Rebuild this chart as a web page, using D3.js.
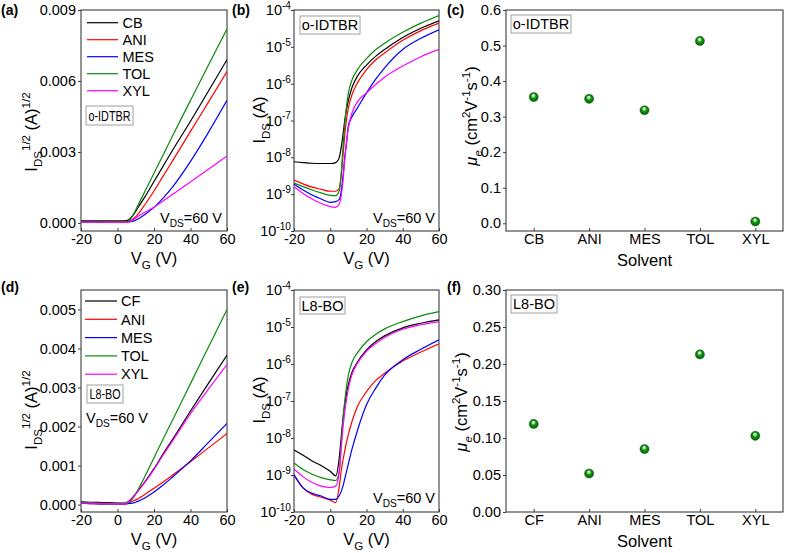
<!DOCTYPE html>
<html><head><meta charset="utf-8">
<script src="https://cdn.jsdelivr.net/npm/d3@7"></script>
<style>body{margin:0;background:#fff} svg{display:block} text{font-family:"Liberation Sans",Arial,sans-serif;fill:#000}</style>
</head><body><svg id="c" width="785" height="553"></svg>
<script>
// ---------------- DATA ----------------
const vg = [-20,-15,-10,-5,0,3,5,6,7,8,9,10,12,15,20,25,30,40,50,60];
const namesTop = ["CB","ANI","MES","TOL","XYL"];
const namesBottom = ["CF","ANI","MES","TOL","XYL"];
const colors = ["#000000","#ff0000","#0000ff","#0a8a0a","#ff00ff"];

// (a) sqrt(IDS) in units of 1e-3 A^1/2
const aCB  = [0.09,0.09,0.085,0.085,0.085,0.09,0.10,0.13,0.19,0.28,0.38,0.5,0.74,1.1,1.75,2.4,3.05,4.3,5.6,6.9];
const aANI = [0.05,0.045,0.04,0.04,0.035,0.035,0.04,0.06,0.09,0.14,0.2,0.27,0.45,0.77,1.35,1.98,2.6,3.87,5.13,6.4];
const aMES = [0.05,0.045,0.035,0.03,0.025,0.025,0.03,0.04,0.05,0.07,0.09,0.12,0.2,0.36,0.66,1.05,1.5,2.6,3.85,5.18];
const aTOL = [0.04,0.04,0.035,0.035,0.03,0.03,0.04,0.08,0.15,0.26,0.4,0.56,0.87,1.33,2.1,2.87,3.65,5.18,6.7,8.2];
const aXYL = [0.04,0.035,0.03,0.025,0.02,0.02,0.025,0.04,0.07,0.11,0.16,0.21,0.32,0.45,0.66,0.93,1.2,1.73,2.28,2.83];

// (b) IDS (A)
const bCB  = [7.6e-9,7.2e-9,6.9e-9,6.8e-9,6.8e-9,7.2e-9,1.0e-8,1.8e-8,4.0e-8,1.0e-7,2.0e-7,3.5e-7,7.9e-7,1.6e-6,3.2e-6,5.5e-6,8.5e-6,1.8e-5,3.2e-5,5.1e-5];
const bANI = [2.4e-9,1.9e-9,1.55e-9,1.35e-9,1.2e-9,1.2e-9,1.45e-9,3.0e-9,1.05e-8,4.0e-8,1.1e-7,2.2e-7,5.0e-7,1.05e-6,2.4e-6,4.4e-6,6.8e-6,1.5e-5,2.75e-5,4.4e-5];
const bMES = [1.9e-9,1.3e-9,9.5e-10,7.4e-10,6.0e-10,6.3e-10,7.2e-10,1.17e-9,3.0e-9,1.0e-8,2.5e-8,7.1e-8,1.26e-7,2.2e-7,5.6e-7,1.3e-6,2.7e-6,8.5e-6,1.7e-5,2.9e-5];
const bTOL = [2.0e-9,1.6e-9,1.3e-9,1.08e-9,9.3e-10,9.1e-10,1.26e-9,3.5e-9,1.8e-8,7.9e-8,2.5e-7,5.6e-7,1.26e-6,2.4e-6,4.8e-6,8.3e-6,1.26e-5,2.5e-5,4.4e-5,7.1e-5];
const bXYL = [1.6e-9,1.05e-9,7.4e-10,5.6e-10,4.6e-10,4.4e-10,5.4e-10,8.5e-10,2.2e-9,8.5e-9,2.8e-8,6.3e-8,1.6e-7,3.2e-7,5.6e-7,9.5e-7,1.5e-6,3.0e-6,5.4e-6,8.5e-6];

// (c) electron mobility, cm2/Vs
const cSolvents = ["CB","ANI","MES","TOL","XYL"];
const cMobility = [0.355,0.350,0.318,0.513,0.005];

// (d) sqrt(IDS) in units of 1e-3 A^1/2
const dCF  = [0.07,0.06,0.055,0.05,0.04,0.035,0.05,0.08,0.12,0.17,0.22,0.28,0.4,0.58,0.92,1.3,1.66,2.4,3.12,3.83];
const dANI = [0.03,0.025,0.02,0.02,0.015,0.015,0.025,0.04,0.06,0.08,0.1,0.12,0.17,0.26,0.42,0.58,0.75,1.1,1.46,1.82];
const dMES = [0.03,0.025,0.02,0.02,0.015,0.015,0.02,0.025,0.03,0.035,0.045,0.06,0.1,0.17,0.32,0.5,0.7,1.12,1.6,2.08];
const dTOL = [0.045,0.04,0.035,0.03,0.03,0.03,0.035,0.05,0.08,0.13,0.2,0.28,0.45,0.72,1.2,1.68,2.15,3.1,4.05,5.0];
const dXYL = [0.04,0.035,0.03,0.025,0.02,0.02,0.045,0.07,0.11,0.16,0.21,0.27,0.39,0.57,0.9,1.27,1.62,2.33,2.97,3.59];

// (e) IDS (A)
const eCF  = [4.8e-9,3.4e-9,2.4e-9,1.8e-9,1.26e-9,9.5e-10,3.0e-9,1.0e-8,3.2e-8,7.9e-8,1.6e-7,2.8e-7,6.0e-7,1.12e-6,2.4e-6,4.0e-6,5.75e-6,9.5e-6,1.26e-5,1.55e-5];
const eANI = [1.02e-9,4.5e-10,3.0e-10,2.5e-10,2.1e-10,1.8e-10,5.0e-10,1.26e-9,2.5e-9,4.5e-9,7.9e-9,1.26e-8,2.8e-8,7.1e-8,1.8e-7,3.55e-7,5.6e-7,1.2e-6,2.1e-6,3.5e-6];
const eMES = [1.0e-9,4.5e-10,3.2e-10,2.7e-10,2.2e-10,2.2e-10,2.8e-10,3.55e-10,5.0e-10,7.9e-10,1.26e-9,2.0e-9,5.0e-9,1.6e-8,7.9e-8,2.2e-7,5.0e-7,1.3e-6,2.5e-6,4.5e-6];
const eTOL = [2.1e-9,1.4e-9,1.05e-9,8.5e-10,7.4e-10,7.1e-10,1.26e-9,6.3e-9,3.2e-8,1.0e-7,2.5e-7,5.0e-7,1.12e-6,2.0e-6,4.0e-6,6.3e-6,8.9e-6,1.4e-5,2.0e-5,2.6e-5];
const eXYL = [1.45e-9,8.9e-10,6.3e-10,5.0e-10,4.6e-10,5.0e-10,1.26e-9,5.0e-9,1.8e-8,5.0e-8,1.12e-7,2.2e-7,5.2e-7,1.05e-6,2.2e-6,3.55e-6,5.2e-6,8.7e-6,1.15e-5,1.4e-5];

// (f) electron mobility
const fSolvents = ["CF","ANI","MES","TOL","XYL"];
const fMobility = [0.119,0.052,0.085,0.213,0.103];

const xTicks = [-20,0,20,40,60];
const aTicks = [0,3,6,9];
const dTicks = [0,1,2,3,4,5];
const logTicks = [-10,-9,-8,-7,-6,-5,-4];
const cTicks = [0,0.1,0.2,0.3,0.4,0.5,0.6];
const fTicks = [0,0.05,0.10,0.15,0.20,0.25,0.30];

// ---------------- DRAW ----------------
const svg = d3.select("#c");
const FS = 14.5;
const TF = 16.5;
const defs = svg.append("defs");
const grad = defs.append("radialGradient").attr("id","ball").attr("cx","50%").attr("cy","50%").attr("r","55%").attr("fx","45%").attr("fy","28%");
grad.append("stop").attr("offset","0%").attr("stop-color","#ffffff");
grad.append("stop").attr("offset","22%").attr("stop-color","#b8e8b8");
grad.append("stop").attr("offset","45%").attr("stop-color","#169a16");
grad.append("stop").attr("offset","100%").attr("stop-color","#005000");

function rich(sel, parts, fs){
  let cur = 0;
  parts.forEach(p=>{
    const small = p.sub || p.sup;
    const target = p.sub ? fs*0.28 : (p.sup ? -fs*0.42 : 0);
    const ts = sel.append("tspan").text(p.t).attr("dy", target-cur).attr("font-size", small? fs*0.7 : fs);
    if(p.it) ts.attr("font-style","italic");
    cur = target;
  });
  return sel;
}

function frame(P){
  svg.append("rect").attr("x",P.x0).attr("y",P.y0).attr("width",P.x1-P.x0).attr("height",P.y1-P.y0)
    .attr("fill","none").attr("stroke","#3c3c3c").attr("stroke-width",1.1);
}
function styleAxis(g){
  g.select(".domain").remove();
  g.selectAll(".tick line").attr("stroke","#3c3c3c");
  g.selectAll(".tick text").attr("font-size",FS).attr("font-family","'Liberation Sans',Arial,sans-serif").attr("fill","#000");
}
function panelLabel(t,x,y){
  svg.append("text").attr("x",x).attr("y",y).attr("font-size",14).attr("font-weight","bold").text(t);
}
function boxLabel(t,x,y,w,h,fs,tl){
  svg.append("rect").attr("x",x).attr("y",y).attr("width",w).attr("height",h).attr("fill","#fff").attr("stroke","#a0a0a0").attr("stroke-width",1);
  const tx = svg.append("text").attr("x",x+w/2).attr("y",y+h/2).attr("dy","0.36em").attr("text-anchor","middle").attr("font-size",fs).text(t);
  if(tl) tx.attr("textLength",tl).attr("lengthAdjust","spacingAndGlyphs");
}
function vdsLabel(x,y,anchor){
  const t = svg.append("text").attr("x",x).attr("y",y).attr("text-anchor",anchor).attr("font-size",FS);
  rich(t,[{t:"V"},{t:"DS",sub:true},{t:"=60 V"}],FS);
}
function xTitleVG(P){
  const t = svg.append("text").attr("x",(P.x0+P.x1)/2).attr("y",P.y1+33).attr("text-anchor","middle").attr("font-size",TF);
  rich(t,[{t:"V"},{t:"G",sub:true},{t:" (V)"}],TF);
}
function yTitle(cx,cy,parts){
  const t = svg.append("text").attr("transform",`translate(${cx},${cy}) rotate(-90)`).attr("text-anchor","middle").attr("font-size",TF);
  rich(t,parts,TF);
}

function linePanel(P, series, yScale, yTickVals, yFmt){
  frame(P);
  const x = d3.scaleLinear().domain([-20,60]).range([P.x0,P.x1]);
  const gx = svg.append("g").attr("transform",`translate(0,${P.y1})`)
    .call(d3.axisBottom(x).tickValues(xTicks).tickSize(-3).tickPadding(3).tickFormat(d=>String(d)));
  styleAxis(gx);
  const gy = svg.append("g").attr("transform",`translate(${P.x0},0)`)
    .call(d3.axisLeft(yScale).tickValues(yTickVals).tickSize(3).tickPadding(2).tickFormat(yFmt));
  styleAxis(gy);
  const clipId = "clip"+P.id;
  defs.append("clipPath").attr("id",clipId).append("rect").attr("x",P.x0).attr("y",P.y0).attr("width",P.x1-P.x0).attr("height",P.y1-P.y0);
  const line = d3.line().x((d,i)=>x(vg[i])).y(d=>yScale(d)).curve(d3.curveMonotoneX);
  const g = svg.append("g").attr("clip-path",`url(#${clipId})`);
  series.forEach((s,i)=>{
    g.append("path").datum(s).attr("d",line).attr("fill","none").attr("stroke",colors[i]).attr("stroke-width",1.2);
  });
  return x;
}

function sqrtFmt(d){ return d3.format(".3f")(d/1000); }

// Panel a
const PA = {id:"a",x0:81,x1:227,y0:10,y1:231};
const yA = d3.scaleLinear().domain([-0.34,9]).range([PA.y1,PA.y0]);
linePanel(PA,[aCB,aANI,aMES,aTOL,aXYL],yA,aTicks,sqrtFmt);
namesTop.forEach((n,i)=>{
  const y = 22.7 + i*17;
  svg.append("line").attr("x1",87).attr("x2",118).attr("y1",y).attr("y2",y).attr("stroke",colors[i]).attr("stroke-width",1.2);
  svg.append("text").attr("x",122.5).attr("y",y).attr("dy","0.36em").attr("font-size",FS).text(n);
});
boxLabel("o-IDTBR",86,106,47,19,14,42);
vdsLabel(222,223,"end");
xTitleVG(PA);
yTitle(37,132,[{t:"I"},{t:"DS",sub:true},{t:"1/2",sup:true},{t:" (A)"},{t:"1/2",sup:true}]);
panelLabel("(a)",1,15);

// log panels
function logPanel(P, series){
  const y = d3.scaleLog().domain([1e-10,1e-4]).range([P.y1,P.y0]);
  linePanel(P, series, y, logTicks.map(e=>Math.pow(10,e)), d=>"");
  logTicks.forEach(e=>{
    const t = svg.append("text").attr("x",P.x0-3).attr("y",y(Math.pow(10,e))+5).attr("text-anchor","end").attr("font-size",FS);
    rich(t,[{t:"10"},{t:String(e),sup:true}],FS);
  });
  return y;
}

const PB = {id:"b",x0:294,x1:439,y0:10,y1:231};
logPanel(PB,[bCB,bANI,bMES,bTOL,bXYL]);
boxLabel("o-IDTBR",300,16,60,18,14.5);
vdsLabel(435,223,"end");
xTitleVG(PB);
yTitle(265,120,[{t:"I"},{t:"DS",sub:true},{t:" (A)"}]);
panelLabel("(b)",232,15);

// scatter panels
function scatterPanel(P, cats, vals, domain, ticks, fmt){
  frame(P);
  const x = d3.scalePoint().domain(cats).range([P.x0,P.x1]).padding(0.5);
  const y = d3.scaleLinear().domain(domain).range([P.y1,P.y0]);
  const gx = svg.append("g").attr("transform",`translate(0,${P.y1})`)
    .call(d3.axisBottom(x).tickSize(-3).tickPadding(3));
  styleAxis(gx);
  const gy = svg.append("g").attr("transform",`translate(${P.x0},0)`)
    .call(d3.axisLeft(y).tickValues(ticks).tickSize(3).tickPadding(2).tickFormat(d3.format(fmt)));
  styleAxis(gy);
  svg.append("g").selectAll("circle").data(vals).join("circle")
    .attr("cx",(d,i)=>x(cats[i])).attr("cy",d=>y(d)).attr("r",4.6)
    .attr("fill","url(#ball)").attr("stroke","#0a5a0a").attr("stroke-width",0.4);
  svg.append("text").attr("x",(P.x0+P.x1)/2).attr("y",P.y1+35).attr("text-anchor","middle").attr("font-size",TF).text("Solvent");
}
const muParts = [{t:"μ",it:true},{t:"e",sub:true,it:true},{t:" (cm"},{t:"2",sup:true},{t:"V"},{t:"-1",sup:true},{t:"s"},{t:"-1",sup:true},{t:")"}];

const PC = {id:"c",x0:506,x1:783,y0:10,y1:231};
scatterPanel(PC,cSolvents,cMobility,[-0.0217,0.6],cTicks,".1f");
boxLabel("o-IDTBR",511,15,60,18,14.5);
yTitle(477,116,muParts);
panelLabel("(c)",447,15);

// Panel d
const PD = {id:"d",x0:81,x1:227,y0:290,y1:512};
const yD = d3.scaleLinear().domain([-0.19,5.5]).range([PD.y1,PD.y0]);
linePanel(PD,[dCF,dANI,dMES,dTOL,dXYL],yD,dTicks,sqrtFmt);
namesBottom.forEach((n,i)=>{
  const y = 301 + i*18.3;
  svg.append("line").attr("x1",85).attr("x2",117).attr("y1",y).attr("y2",y).attr("stroke",colors[i]).attr("stroke-width",1.2);
  svg.append("text").attr("x",121).attr("y",y).attr("dy","0.36em").attr("font-size",FS).text(n);
});
boxLabel("L8-BO",87,385,36,18,14,31);
vdsLabel(86,423,"start");
xTitleVG(PD);
yTitle(37,410,[{t:"I"},{t:"DS",sub:true},{t:"1/2",sup:true},{t:" (A)"},{t:"1/2",sup:true}]);
panelLabel("(d)",1,292);

// Panel e
const PE = {id:"e",x0:294,x1:439,y0:290,y1:512};
logPanel(PE,[eCF,eANI,eMES,eTOL,eXYL]);
boxLabel("L8-BO",300,297,45,17,14.5);
vdsLabel(435,503,"end");
xTitleVG(PE);
yTitle(265,400,[{t:"I"},{t:"DS",sub:true},{t:" (A)"}]);
panelLabel("(e)",232,292);

// Panel f
const PF = {id:"f",x0:506,x1:783,y0:290,y1:512};
scatterPanel(PF,fSolvents,fMobility,[0,0.30],fTicks,".2f");
boxLabel("L8-BO",511,295,46,18,14.5);
yTitle(467,402,muParts);
panelLabel("(f)",447,292);
</script></body></html>
